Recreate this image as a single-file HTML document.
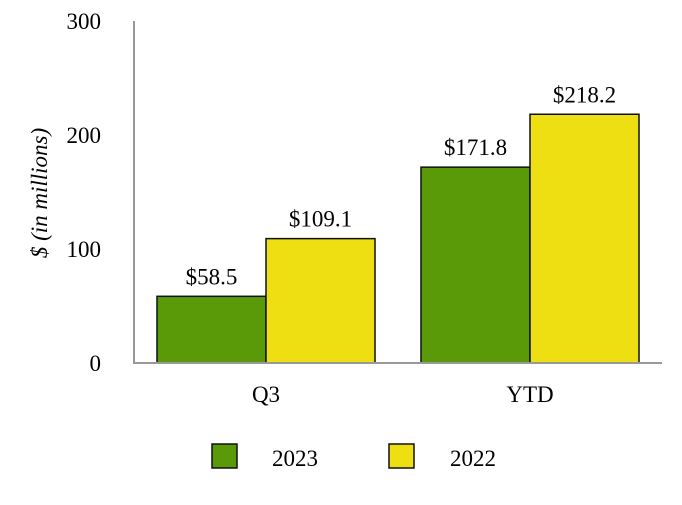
<!DOCTYPE html>
<html><head><meta charset="utf-8"><style>
body{margin:0;background:#fff}
svg text{font-family:"Liberation Serif",serif;fill:#000}
</style></head><body>
<svg id="chart" width="682" height="500">
<text x="0" y="0" font-size="23" font-style="italic" text-anchor="middle" transform="translate(47,193) rotate(-90)">$ (in millions)</text>
<g id="yticks"></g>
<g id="bars"></g>
<line x1="134" y1="21" x2="134" y2="363" stroke="#999" stroke-width="2"/>
<line x1="133" y1="363" x2="662" y2="363" stroke="#999" stroke-width="2"/>
<g>
<rect x="212" y="444" width="25" height="24" fill="#5a9a08" stroke="#111" stroke-width="1.5"/>
<text x="272" y="466" font-size="23">2023</text>
<rect x="389" y="444" width="25" height="24" fill="#eddf12" stroke="#111" stroke-width="1.5"/>
<text x="450" y="466" font-size="23">2022</text>
</g>
</svg>
<script>
const categories=["Q3","YTD"];
const values2023=[58.5,171.8];
const values2022=[109.1,218.2];
const yTicks=[0,100,200,300];
const ns="http://www.w3.org/2000/svg";
const y0=363,yTop=21,yMax=300,xLeft=134,groupW=264,barW=109;
const y=v=>y0-(v/yMax)*(y0-yTop);
const bars=document.getElementById('bars');
const yt=document.getElementById('yticks');
function mk(t,a,p){const e=document.createElementNS(ns,t);for(const k in a)e.setAttribute(k,a[k]);p.appendChild(e);return e;}
yTicks.forEach(t=>{
 const e=mk('text',{x:101,y:y(t)+8,'font-size':23,'text-anchor':'end'},yt);
 
 
 e.textContent=t;
});
const series=[{vals:values2023,color:"#5a9a08",name:"2023"},{vals:values2022,color:"#eddf12",name:"2022"}];
categories.forEach((c,i)=>{
 const cx=xLeft+groupW/2+i*groupW;
 series.forEach((s,j)=>{
  const x=cx-barW+j*barW, v=s.vals[i];
  const r=mk('rect',{x:x,y:y(v),width:barW,height:y0-y(v),fill:s.color,stroke:"#111",'stroke-width':1.5},bars);
  
  
  const l=mk('text',{x:x+barW/2,y:y(v)-12,'font-size':23,'text-anchor':'middle'},bars);
  
  
  l.textContent='$'+v.toFixed(1);
 });
 const t=mk('text',{x:cx,y:402,'font-size':23,'text-anchor':'middle'},bars);
 
 
 t.textContent=c;
});
</script>
</body></html>
